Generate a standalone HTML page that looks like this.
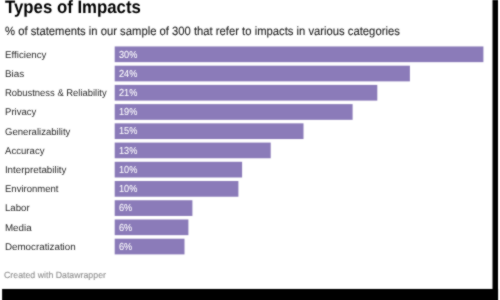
<!DOCTYPE html>
<html><head><meta charset="utf-8"><style>
html,body{text-rendering:geometricPrecision;margin:0;padding:0;width:500px;height:300px;overflow:hidden;background:#fff;position:relative;font-family:"Liberation Sans",sans-serif}
.t{}
.title{position:absolute;left:5.1px;top:-3.5px;font-size:18px;font-weight:bold;color:#000;white-space:nowrap;line-height:20px;transform-origin:0 0;transform:scaleX(0.932)}
.sub{position:absolute;left:4.6px;top:24px;font-size:12px;color:#222;white-space:nowrap;-webkit-text-stroke:0.1px #222;line-height:14px;transform-origin:0 0;transform:scaleX(0.938)}
.lab{position:absolute;left:4.9px;height:16px;line-height:16px;font-size:9.8px;transform-origin:0 0;color:#2a2a2a;white-space:nowrap}
.val{position:absolute;left:118.6px;height:16px;line-height:16px;font-size:10.2px;transform-origin:0 0;transform:scaleX(0.9);color:#fff;-webkit-text-stroke:0.05px #fff;white-space:nowrap}
.foot{position:absolute;left:3.9px;top:269.4px;font-size:9px;transform-origin:0 0;transform:scaleX(0.975);color:#8f8f8f;line-height:12px;white-space:nowrap;-webkit-text-stroke:0.1px #8f8f8f}
svg{position:absolute;left:0;top:0}
#wrap{position:absolute;left:0;top:0;width:500px;height:300px;filter:url(#soft)}
</style></head><body>
<svg width="0" height="0" style="position:absolute"><defs><filter id="soft" x="0" y="0" width="100%" height="100%" color-interpolation-filters="sRGB"><feConvolveMatrix order="3" kernelMatrix="1 2 1 2 14 2 1 2 1" edgeMode="duplicate"/></filter></defs></svg>
<div id="wrap">
<svg width="500" height="300" viewBox="0 0 500 300">
<g fill="#8b7bb9">
<rect x="114.7" y="46.450" width="368.70" height="15.7"/>
<rect x="114.7" y="65.674" width="295.20" height="15.7"/>
<rect x="114.7" y="84.898" width="262.60" height="15.7"/>
<rect x="114.7" y="104.122" width="237.90" height="15.7"/>
<rect x="114.7" y="123.346" width="188.80" height="15.7"/>
<rect x="114.7" y="142.570" width="156.00" height="15.7"/>
<rect x="114.7" y="161.794" width="127.40" height="15.7"/>
<rect x="114.7" y="181.018" width="123.70" height="15.7"/>
<rect x="114.7" y="200.242" width="77.70" height="15.7"/>
<rect x="114.7" y="219.466" width="73.70" height="15.7"/>
<rect x="114.7" y="238.690" width="69.80" height="15.7"/>
</g>
</svg>
<div class="t">
<div class="title">Types of Impacts</div>
<div class="sub">% of statements in our sample of 300 that refer to impacts in various categories</div>
<div class="lab" style="top:47.60px;transform:scaleX(0.993)">Efficiency</div>
<div class="val" style="top:47.50px">30%</div>
<div class="lab" style="top:66.82px;transform:scaleX(1.011)">Bias</div>
<div class="val" style="top:66.72px">24%</div>
<div class="lab" style="top:86.05px;transform:scaleX(0.962)">Robustness &amp; Reliability</div>
<div class="val" style="top:85.95px">21%</div>
<div class="lab" style="top:105.27px;transform:scaleX(0.978)">Privacy</div>
<div class="val" style="top:105.17px">19%</div>
<div class="lab" style="top:124.50px;transform:scaleX(0.976)">Generalizability</div>
<div class="val" style="top:124.40px">15%</div>
<div class="lab" style="top:143.72px;transform:scaleX(0.98)">Accuracy</div>
<div class="val" style="top:143.62px">13%</div>
<div class="lab" style="top:162.94px;transform:scaleX(1.0)">Interpretability</div>
<div class="val" style="top:162.84px">10%</div>
<div class="lab" style="top:182.17px;transform:scaleX(0.973)">Environment</div>
<div class="val" style="top:182.07px">10%</div>
<div class="lab" style="top:201.39px;transform:scaleX(0.984)">Labor</div>
<div class="val" style="top:201.29px">6%</div>
<div class="lab" style="top:220.62px;transform:scaleX(1.0)">Media</div>
<div class="val" style="top:220.52px">6%</div>
<div class="lab" style="top:239.84px;transform:scaleX(1.0)">Democratization</div>
<div class="val" style="top:239.74px">6%</div>
<div class="foot">Created with Datawrapper</div>
</div>
<svg width="500" height="300" viewBox="0 0 500 300">
<g fill="#000"><rect x="492.5" y="-5" width="5.5" height="310"/><rect x="2.1" y="288.95" width="496" height="20"/></g>
</svg>
</body></html>
